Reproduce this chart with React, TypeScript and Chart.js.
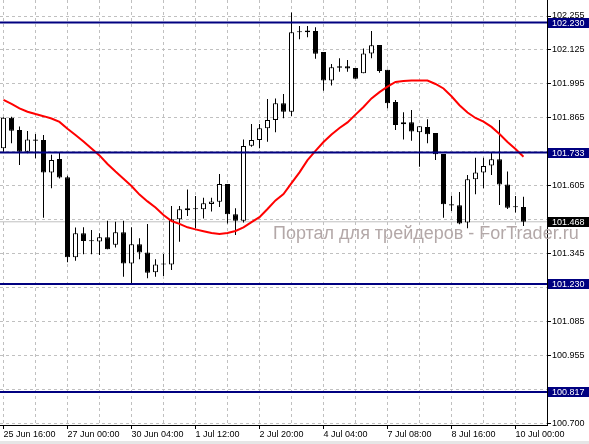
import React, { useEffect, useRef } from "react";
import { Chart, registerables } from "chart.js";

Chart.register(...registerables);

const FONT = "'Liberation Sans', Arial, sans-serif";

const xLabels = ["25 Jun 16:00", "27 Jun 00:00", "30 Jun 04:00", "1 Jul 12:00", "2 Jul 20:00", "4 Jul 04:00", "7 Jul 08:00", "8 Jul 16:00", "10 Jul 00:00"];

const opens = [
  101.749, 101.866, 101.819, 101.736, 101.783, 101.781, 101.657, 101.708, 101.638, 101.332,
  101.424, 101.395, 101.393, 101.409, 101.380, 101.428, 101.309, 101.382, 101.351, 101.275,
  101.306, 101.305, 101.478, 101.512, 101.520, 101.516, 101.536, 101.545, 101.613, 101.497,
  101.472, 101.759, 101.781, 101.826, 101.857, 101.921, 101.889, 102.194, 102.193, 102.198,
  102.117, 102.008, 102.063, 102.063, 102.056, 102.036, 102.112, 102.144, 102.049, 101.926,
  101.841, 101.849, 101.810, 101.831, 101.808, 101.727, 101.535, 101.531, 101.465, 101.631,
  101.657, 101.683, 101.707, 101.611, 101.525, 101.525,
];
const highs = [
  101.868, 101.870, 101.832, 101.815, 101.804, 101.800, 101.724, 101.734, 101.644, 101.446,
  101.447, 101.437, 101.424, 101.472, 101.468, 101.472, 101.447, 101.405, 101.460, 101.325,
  101.345, 101.528, 101.528, 101.592, 101.567, 101.560, 101.560, 101.651, 101.613, 101.520,
  101.783, 101.842, 101.842, 101.938, 101.940, 101.957, 102.268, 102.217, 102.217, 102.212,
  102.117, 102.071, 102.093, 102.087, 102.056, 102.131, 102.198, 102.144, 102.049, 101.934,
  101.887, 101.896, 101.833, 101.860, 101.808, 101.727, 101.568, 101.582, 101.647, 101.713,
  101.713, 101.732, 101.857, 101.660, 101.567, 101.564,
];
const lows = [
  101.736, 101.768, 101.685, 101.730, 101.711, 101.484, 101.596, 101.634, 101.313, 101.319,
  101.344, 101.344, 101.341, 101.363, 101.370, 101.258, 101.228, 101.325, 101.252, 101.258,
  101.261, 101.284, 101.392, 101.490, 101.443, 101.481, 101.507, 101.525, 101.462, 101.418,
  101.465, 101.755, 101.749, 101.774, 101.810, 101.864, 101.873, 102.166, 102.174, 102.092,
  101.969, 101.989, 102.042, 102.042, 102.015, 102.036, 102.093, 102.038, 101.902, 101.819,
  101.783, 101.778, 101.679, 101.768, 101.704, 101.484, 101.509, 101.459, 101.443, 101.573,
  101.596, 101.647, 101.532, 101.517, 101.504, 101.452,
];
const closes = [
  101.866, 101.816, 101.736, 101.783, 101.778, 101.657, 101.704, 101.637, 101.332, 101.424,
  101.395, 101.394, 101.409, 101.363, 101.428, 101.309, 101.382, 101.351, 101.273, 101.305,
  101.305, 101.478, 101.516, 101.520, 101.516, 101.539, 101.546, 101.613, 101.497, 101.472,
  101.758, 101.781, 101.826, 101.857, 101.921, 101.889, 102.193, 102.193, 102.200, 102.111,
  102.008, 102.059, 102.057, 102.054, 102.015, 102.112, 102.143, 102.045, 101.921, 101.838,
  101.849, 101.813, 101.833, 101.803, 101.726, 101.535, 101.530, 101.462, 101.631, 101.657,
  101.681, 101.707, 101.611, 101.522, 101.524, 101.468,
];
const maValues = [
  101.934, 101.919, 101.902, 101.889, 101.880, 101.872, 101.863, 101.850, 101.824, 101.800,
  101.775, 101.748, 101.722, 101.689, 101.660, 101.633, 101.605, 101.572, 101.546, 101.523,
  101.494, 101.471, 101.460, 101.447, 101.439, 101.432, 101.425, 101.421, 101.425, 101.433,
  101.447, 101.467, 101.486, 101.517, 101.550, 101.574, 101.616, 101.657, 101.704, 101.739,
  101.773, 101.802, 101.827, 101.848, 101.878, 101.907, 101.940, 101.964, 101.985, 102.003,
  102.006, 102.008, 102.008, 102.008, 101.995, 101.978, 101.948, 101.914, 101.886, 101.865,
  101.851, 101.831, 101.804, 101.773, 101.746, 101.717,
];

const yTickValues = [102.255, 102.125, 101.995, 101.865, 101.735, 101.605, 101.475, 101.345, 101.215, 101.085, 100.955, 100.825, 100.695];
const yTickLabels = ["102.255", "102.125", "101.995", "101.865", "", "101.605", "", "101.345", "", "101.085", "100.955", "", "100.700"];

const levelValues = [102.23, 101.733, 101.23, 100.817];
const levelLabels = ["102.230", "101.733", "101.230", "100.817"];
const bidValue = 101.468;
const bidLabel = "101.468";
const watermark = "Портал для трейдеров - ForTrader.ru";

const X_MIN = -0.4375;
const X_MAX = 67.9375;
const Y_MIN = 100.691;
const Y_MAX = 102.3162;
const BARS_PER_GRID = 4;

export default function App() {
  const ref = useRef<HTMLCanvasElement>(null);

  useEffect(() => {
    document.body.style.margin = "0";
    const canvas = ref.current;
    if (!canvas) return;

    const overlay = {
      id: "overlay",
      beforeDraw(chart: any) {
        const ctx = chart.ctx;
        ctx.save();
        ctx.fillStyle = "#ffffff";
        ctx.fillRect(0, 0, chart.width, chart.height);
        ctx.fillStyle = "#e6e6e6";
        ctx.fillRect(0, 441, chart.width, 3);
        ctx.restore();
      },
      beforeDatasetsDraw(chart: any) {
        const ctx = chart.ctx;
        ctx.save();
        ctx.font = `18px ${FONT}`;
        ctx.fillStyle = "#b3a8a8";
        ctx.textBaseline = "alphabetic";
        ctx.textAlign = "left";
        ctx.fillText(watermark, 273, 239);
        ctx.restore();
      },
      afterDraw(chart: any) {
        const ctx = chart.ctx;
        const ys = chart.scales.y;
        const left = chart.chartArea.right + 1;
        ctx.save();
        ctx.font = `9px ${FONT}`;
        ctx.textBaseline = "middle";
        ctx.textAlign = "left";
        const box = (v: number, label: string, bg: string) => {
          const y = ys.getPixelForValue(v);
          ctx.fillStyle = bg;
          ctx.fillRect(left, Math.round(y) - 5, chart.width - left, 10);
          ctx.fillStyle = "#ffffff";
          ctx.fillText(label, left + 4, Math.round(y) + 0.5);
        };
        levelValues.forEach((v, i) => box(v, levelLabels[i], "#000080"));
        box(bidValue, bidLabel, "#000000");
        ctx.restore();
      },
    };

    const idx = opens.map((_, i) => i);

    const chart = new Chart(canvas, {
      type: "bar",
      data: {
        datasets: [
          {
            type: "line",
            data: [{ x: X_MIN, y: bidValue }, { x: X_MAX, y: bidValue }],
            borderColor: "#c0c0c0",
            borderWidth: 1,
            pointRadius: 0,
            order: 10,
          } as any,
          {
            type: "bar",
            data: idx.map((i) => ({ x: i, y: [lows[i], highs[i]] })),
            backgroundColor: "#000000",
            borderWidth: 0,
            barThickness: 1,
            grouped: false,
            inflateAmount: 0,
            order: 6,
          } as any,
          {
            type: "bar",
            data: idx.map((i) => ({ x: i, y: [opens[i], closes[i]] })),
            backgroundColor: idx.map((i) => (closes[i] > opens[i] ? "#ffffff" : "#000000")),
            borderColor: "#000000",
            borderWidth: 1,
            borderSkipped: false,
            barThickness: 5,
            minBarLength: 1,
            grouped: false,
            inflateAmount: 0,
            order: 5,
          } as any,
          {
            type: "line",
            data: idx.map((i) => ({ x: i, y: maValues[i] })),
            borderColor: "#ff0000",
            borderWidth: 2,
            pointRadius: 0,
            tension: 0,
            order: 2,
          } as any,
          ...levelValues.map(
            (v) =>
              ({
                type: "line",
                data: [{ x: X_MIN, y: v }, { x: X_MAX, y: v }],
                borderColor: "#000080",
                borderWidth: 2,
                pointRadius: 0,
                order: 1,
              } as any)
          ),
        ],
      },
      options: {
        responsive: false,
        animation: false,
        events: [],
        layout: { padding: 0 },
        font: { family: FONT, size: 9 },
        plugins: { legend: { display: false }, tooltip: { enabled: false } },
        scales: {
          x: {
            type: "linear",
            min: X_MIN,
            max: X_MAX,
            offset: false,
            afterBuildTicks: (scale: any) => {
              const t = [];
              for (let v = 0; v <= (xLabels.length - 1) * BARS_PER_GRID * 2; v += BARS_PER_GRID) t.push({ value: v });
              scale.ticks = t;
            },
            afterFit: (scale: any) => {
              scale.height = 19;
              scale.paddingLeft = 0;
              scale.paddingRight = 0;
            },
            grid: {
              offset: false,
              color: "#c0c0c0",
              lineWidth: 1,
              tickLength: 4,
              tickColor: (ctx: any) => (ctx.index % 2 === 0 ? "#000000" : "rgba(0,0,0,0)"),
            },
            border: { display: true, color: "#000000", width: 1, dash: [3, 3] },
            ticks: {
              autoSkip: false,
              maxRotation: 0,
              minRotation: 0,
              align: "start",
              padding: 0,
              color: "#000000",
              font: { family: FONT, size: 9 },
              callback: (_v: any, i: number) => (i % 2 === 0 ? xLabels[i / 2] : ""),
            },
          },
          y: {
            type: "linear",
            position: "right",
            min: Y_MIN,
            max: Y_MAX,
            afterBuildTicks: (scale: any) => {
              scale.ticks = yTickValues.map((v) => ({ value: v }));
            },
            afterFit: (scale: any) => {
              scale.width = 42;
              scale.paddingTop = 0;
              scale.paddingBottom = 0;
            },
            grid: {
              color: "#c0c0c0",
              lineWidth: 1,
              tickLength: 4,
              tickColor: "#000000",
            },
            border: { display: true, color: "#000000", width: 1, dash: [3, 3] },
            ticks: {
              autoSkip: false,
              padding: 1,
              color: "#000000",
              font: { family: FONT, size: 9 },
              callback: (_v: any, i: number) => yTickLabels[i],
            },
          },
        },
      } as any,
      plugins: [overlay],
    });

    return () => chart.destroy();
  }, []);

  return <canvas ref={ref} width={589} height={444} style={{ display: "block", width: 589, height: 444 }} />;
}
